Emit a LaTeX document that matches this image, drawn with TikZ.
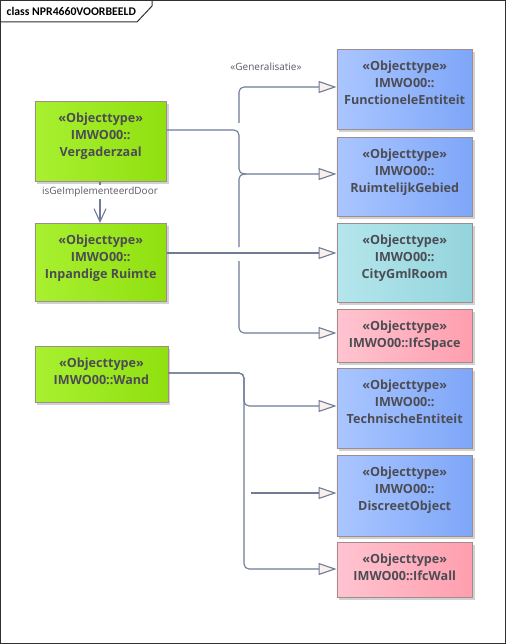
\documentclass[tikz,border=0pt]{standalone}
\usepackage{fontspec}
\setmainfont{Open Sans}
\newfontfamily\titlefont{Carlito}
\usetikzlibrary{arrows.meta,shadows,calc}
\definecolor{txt}{HTML}{4C4C54}
\definecolor{conn}{HTML}{6E7C98}
\definecolor{afill}{HTML}{FBEFEC}
\definecolor{bord}{HTML}{A08C8C}
\definecolor{grL}{HTML}{A8F030}
\definecolor{grR}{HTML}{90E010}
\definecolor{blL}{HTML}{AAC6FF}
\definecolor{blR}{HTML}{7EA6F8}
\definecolor{cyL}{HTML}{B4E6EC}
\definecolor{cyR}{HTML}{94D4DC}
\definecolor{pkL}{HTML}{FFC4D0}
\definecolor{pkR}{HTML}{FF9EAE}
\definecolor{frame}{HTML}{303030}
\definecolor{lbl}{HTML}{5A5A66}
\tikzset{
  objbox/.style={draw=bord, line width=0.9pt, inner sep=0pt, anchor=north west,
    drop shadow={shadow xshift=2.5pt, shadow yshift=-2.5pt, fill=black, opacity=0.18},
    font=\bfseries\fontsize{12.6}{17}\selectfont, text=txt},
  green/.style={left color=grL, right color=grR},
  blue/.style={left color=blL, right color=blR},
  cyan/.style={left color=cyL, right color=cyR},
  pink/.style={left color=pkL, right color=pkR},
  gen/.style={draw=conn, line width=1.1pt, rounded corners=5pt,
    -{Triangle[length=18pt,width=12pt,fill=afill]}},
  genline/.style={draw=conn, line width=1.1pt, rounded corners=5pt},
  lab/.style={font=\fontsize{10}{11}\selectfont, text=lbl, inner sep=1pt}
}
\newcommand{\boxtext}[3]{\parbox[c][#2pt][t]{#1pt}{\centering\rule{0pt}{21.5pt}#3}}
\begin{document}
\begin{tikzpicture}[x=1pt,y=-1pt]
\useasboundingbox (0,0) rectangle (506,644);
\fill[white] (0,0) rectangle (506,644);
% frame
\draw[frame, line width=1pt] (0.5,0.5) rectangle (505.5,643.5);
\draw[frame, line width=1pt] (0.5,22) -- (137,22) -- (152,6) -- (152,0.5);
\node[font=\titlefont\bfseries\fontsize{11.7}{13}\selectfont, anchor=west, inner sep=0pt, text=black] (title) at (6.5,11.5) {class NPR4660VOORBEELD};

% left nodes
\node[objbox, green] (ve) at (34.5,101) {\boxtext{131.5}{80}{«Objecttype»\\IMWO00::\\Vergaderzaal}};
\node[objbox, green] (ip) at (34.5,223) {\boxtext{131.5}{78}{«Objecttype»\\IMWO00::\\Inpandige Ruimte}};
\node[objbox, green] (wa) at (34.5,346) {\boxtext{133}{56}{«Objecttype»\\IMWO00::Wand}};

% right nodes
\node[objbox, blue] (fe) at (336.5,49) {\boxtext{135.5}{80}{«Objecttype»\\IMWO00::\\FunctioneleEntiteit}};
\node[objbox, blue] (rg) at (336.5,137) {\boxtext{135.5}{79}{«Objecttype»\\IMWO00::\\RuimtelijkGebied}};
\node[objbox, cyan] (cg) at (336.5,223) {\boxtext{135.5}{79}{«Objecttype»\\IMWO00::\\CityGmlRoom}};
\node[objbox, pink] (sp) at (336.5,309) {\boxtext{135.5}{53}{«Objecttype»\\IMWO00::IfcSpace}};
\node[objbox, blue] (te) at (336.5,368) {\boxtext{135.5}{80}{«Objecttype»\\IMWO00::\\TechnischeEntiteit}};
\node[objbox, blue] (do) at (336.5,455) {\boxtext{135.5}{81}{«Objecttype»\\IMWO00::\\DiscreetObject}};
\node[objbox, pink] (wl) at (336.5,542) {\boxtext{135.5}{55}{«Objecttype»\\IMWO00::IfcWall}};

% free ends
\coordinate (a1) at (239,123);
\coordinate (a2) at (239,247);
\coordinate (a3) at (239,261);
\coordinate (d1) at (251,493);

% connectors
\draw[gen] (ve.east |- 0,130) -- (239,130) -- (239,174) -- (rg.west |- 0,174);
\draw[gen] (a1) -- (239,87) -- (fe.west |- 0,87);
\draw[genline] (a2) -- (239,174) -- (246,174);
\draw[gen] (a3) -- (239,333) -- (sp.west |- 0,333);
\draw[gen] (ip.east |- 0,253) -- (cg.west |- 0,253);
\draw[gen] (wa.east |- 0,373) -- (244,373) -- (244,406) -- (te.west |- 0,406);
\draw[gen] (wa.east |- 0,373) -- (244,373) -- (244,569) -- (wl.west |- 0,569);
\draw[gen] (d1) -- (do.west |- 0,493);

% labels
\node[lab] (glab) at (266,66.5) {«Generalisatie»};
\draw[draw=conn, line width=1.1pt, -{Straight Barb[length=13pt,width=12pt]}] (ve.south -| 100,0) -- (ip.north -| 100,0)
  node[lab, fill=white, pos=0.24, inner ysep=2pt] (ilab) {isGeImplementeerdDoor};
\end{tikzpicture}
\end{document}
